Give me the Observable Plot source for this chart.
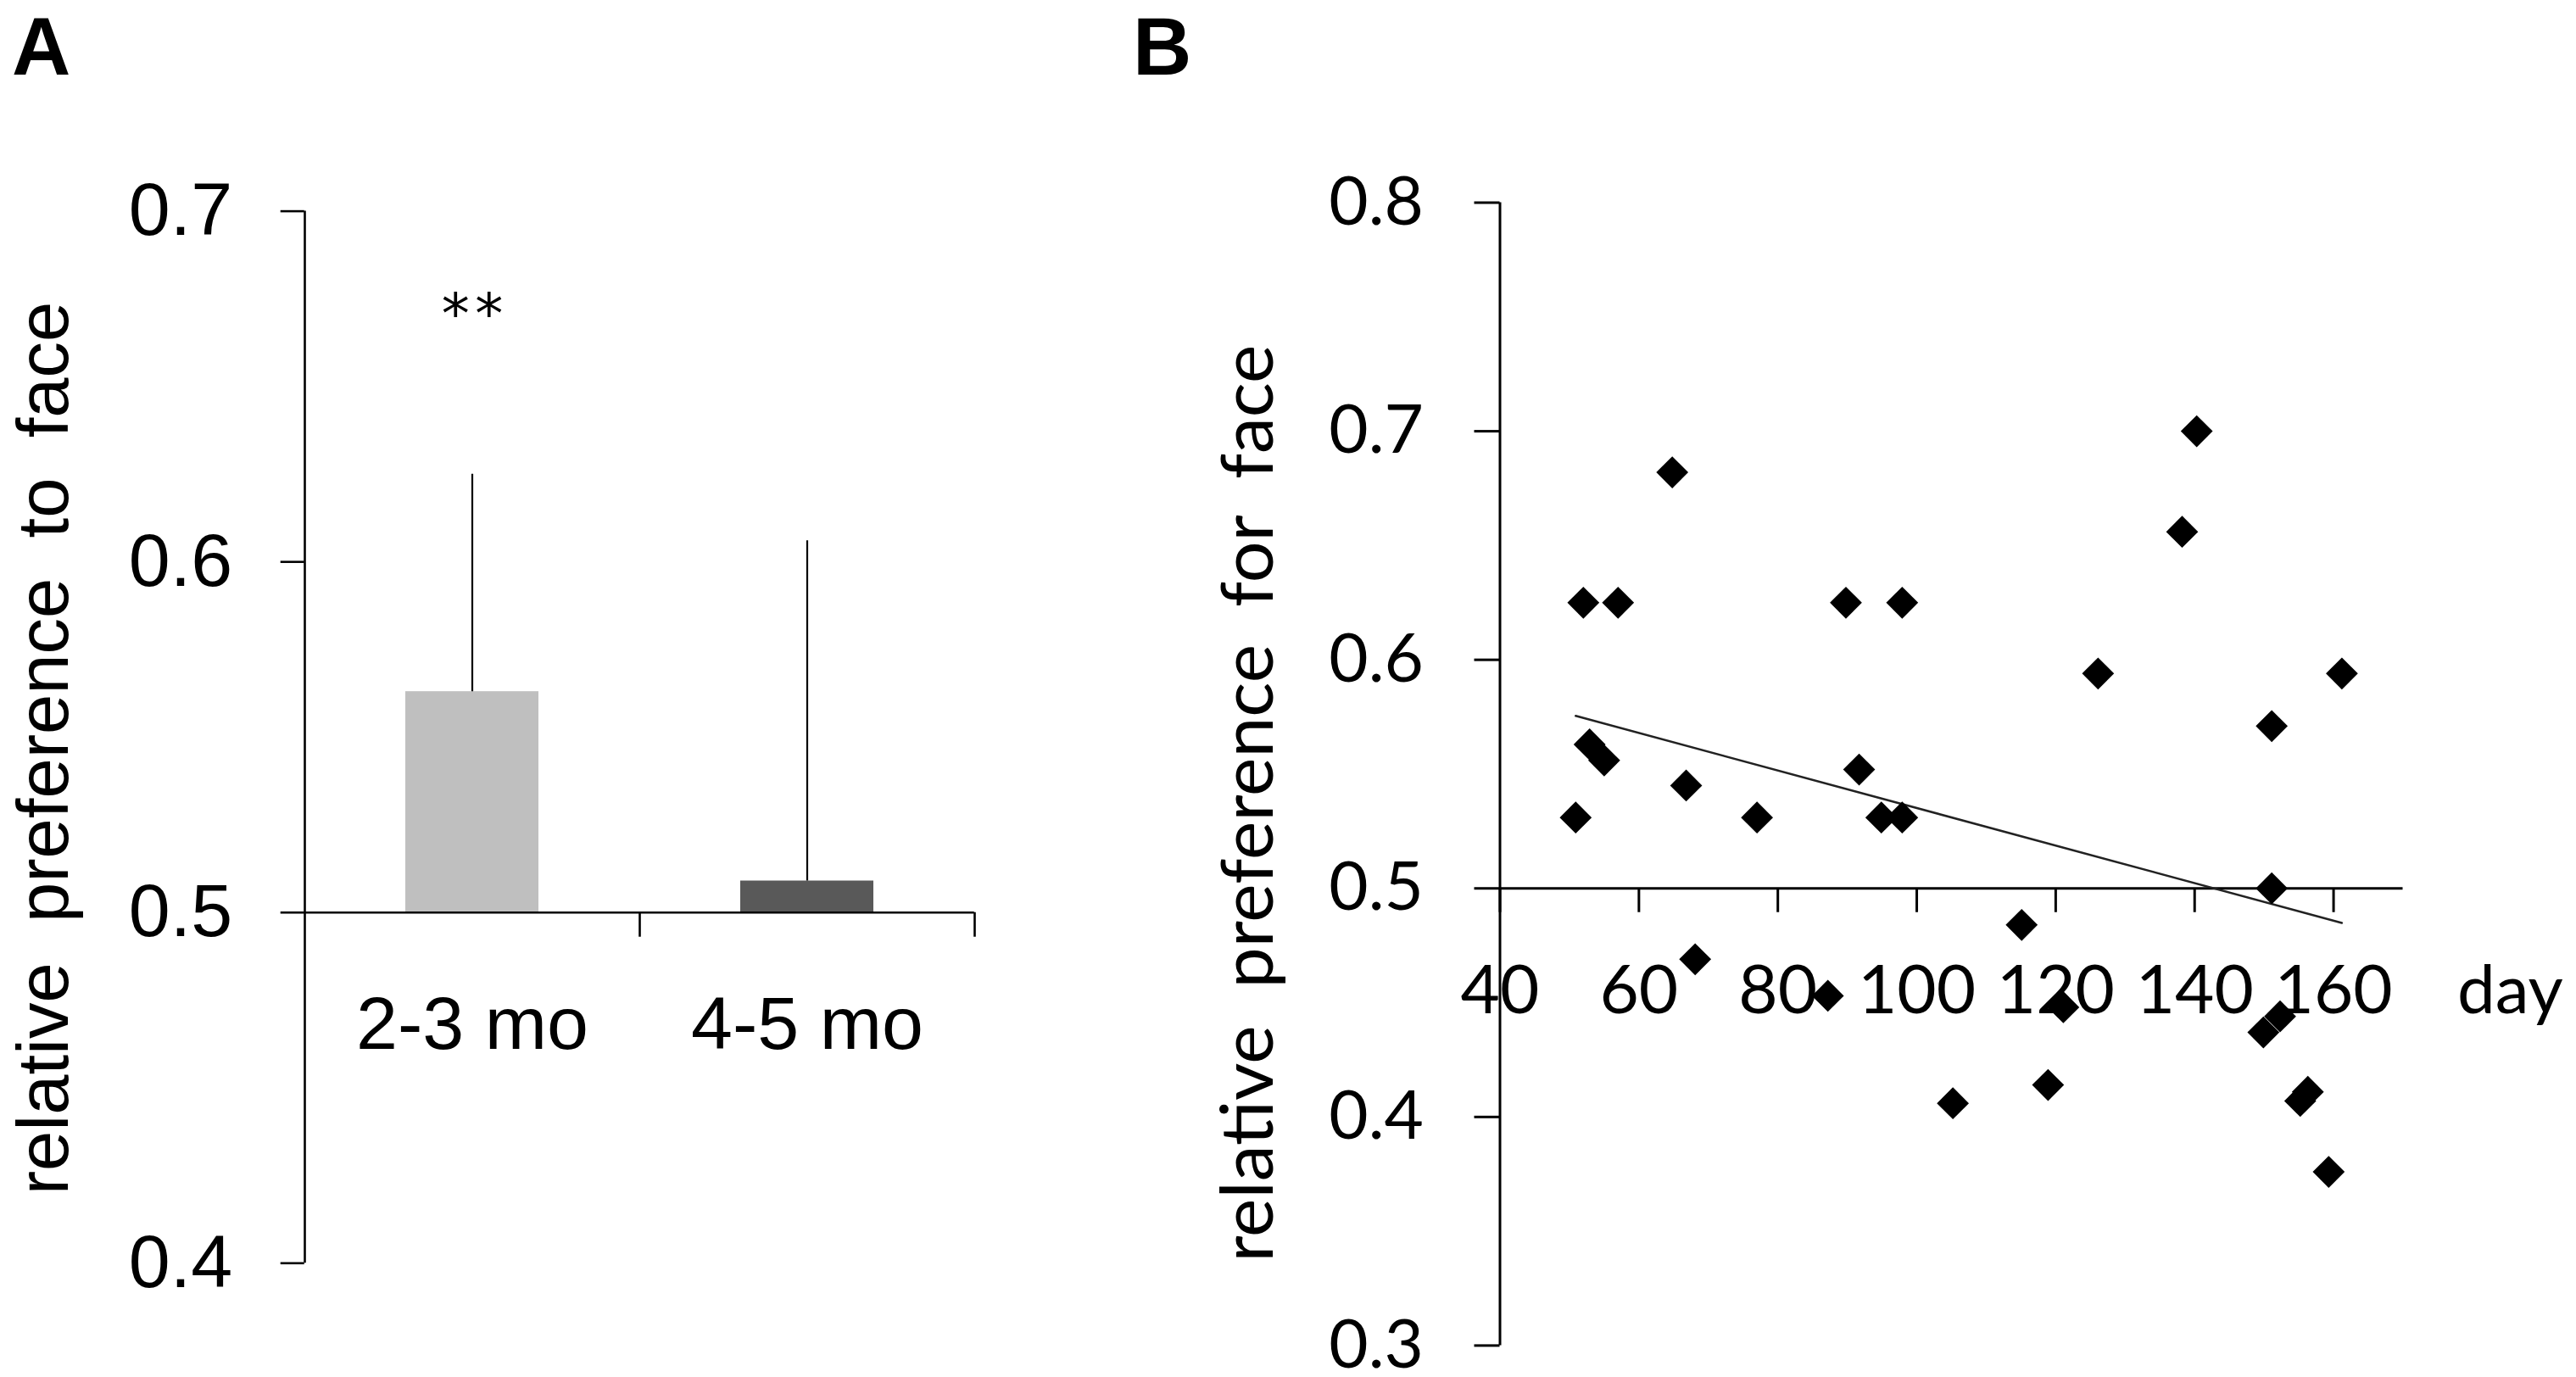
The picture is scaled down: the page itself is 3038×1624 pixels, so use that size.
<!DOCTYPE html>
<html>
<head>
<meta charset="utf-8">
<script src="https://cdn.jsdelivr.net/npm/d3@7"></script>
<script src="https://cdn.jsdelivr.net/npm/@observablehq/plot@0.6"></script>
<style>
  html, body { margin: 0; padding: 0; background: #fff; }
  #page { position: relative; width: 3038px; height: 1624px; overflow: hidden; background: #fff; }
  .panel { position: absolute; top: 0; }
  .tag { position: absolute; font-family: "Liberation Sans", Arial, sans-serif; font-weight: bold; font-size: 96px; line-height: 1; color: #000; }
</style>
</head>
<body>
<div id="page">
  <div class="tag" style="left:14px; top:7px;">A</div>
  <div class="tag" style="left:1336px; top:7px;">B</div>
  <div class="panel" id="panelA" style="left:0px;"></div>
  <div class="panel" id="panelB" style="left:1400px;"></div>
</div>
<script>
// ---------- Panel A data ----------
const groups = ["2-3 mo", "4-5 mo"];
const groupMeans = [0.563, 0.509];
const groupErrors = [0.062, 0.097];
const groupColors = ["#bfbfbf", "#595959"];
const yTicksA = [0.4, 0.5, 0.6, 0.7];
const yDomainA = [0.4, 0.7];
const baselineA = 0.5;
const yLabelA = "relative\u00a0 preference\u00a0 to\u00a0 face";
const sigGroups = ["2-3 mo"];
const sigTexts = ["*\u200a*"];
const sigY = [0.6653];

// ---------- Panel B data ----------
const days = [50.9, 52.0, 52.9, 55.0, 57.0, 64.8, 66.8, 68.1, 77.0, 87.2,
              89.8, 91.7, 94.9, 97.9, 97.9, 105.2, 115.1, 118.9, 121.1, 126.1,
              138.2, 140.3, 149.9, 151.1, 151.1, 152.3, 155.2, 156.3, 159.3, 161.2];
const prefs = [0.531, 0.625, 0.563, 0.556, 0.625, 0.682, 0.545, 0.469, 0.531, 0.453,
               0.625, 0.552, 0.531, 0.625, 0.531, 0.406, 0.484, 0.414, 0.448, 0.594,
               0.656, 0.700, 0.437, 0.571, 0.500, 0.444, 0.407, 0.411, 0.376, 0.594];
const xTicksB = [40, 60, 80, 100, 120, 140, 160];
const yTicksB = [0.3, 0.4, 0.5, 0.6, 0.7, 0.8];
const xDomainB = [40, 170];
const yDomainB = [0.3, 0.8];
const baselineB = 0.5;
const yLabelB = "relative\u00a0 preference\u00a0 for\u00a0 face";
const xLabelB = "day";

// ---------- Panel A ----------
const fontA = '"Liberation Sans", Arial, Helvetica, sans-serif';
const WA = 1250, HA = 1624;
const mA = {left: 358.7, right: WA - 1148.7, top: 248.6, bottom: HA - 1489.3};
const plotHA = HA - mA.top - mA.bottom;
const bandA = (WA - mA.left - mA.right) / groups.length;
const pxToA = px => px * (yDomainA[1] - yDomainA[0]) / plotHA;
const barsA = groups.map((g, i) => ({group: g, mean: groupMeans[i], err: groupErrors[i], color: groupColors[i]}));
const sigA = sigGroups.map((g, i) => ({group: g, text: sigTexts[i], y: sigY[i]}));

const plotA = Plot.plot({
  width: WA, height: HA,
  marginLeft: mA.left, marginRight: mA.right, marginTop: mA.top, marginBottom: mA.bottom,
  style: {fontFamily: fontA, background: "transparent", overflow: "visible", color: "#000"},
  x: {type: "band", domain: groups, padding: 0, axis: null},
  y: {domain: yDomainA, axis: null},
  color: {type: "identity"},
  marks: [
    Plot.barY(barsA, {x: "group", y1: () => baselineA, y2: "mean", fill: "color", insetLeft: 119, insetRight: 119}),
    Plot.ruleX(barsA, {x: "group", y1: "mean", y2: d => d.mean + d.err, stroke: "#000", strokeWidth: 2.2}),
    Plot.ruleX([groups[0]], {x: d => d, dx: -bandA / 2, stroke: "#000", strokeWidth: 2.6}),
    Plot.ruleY([baselineA], {stroke: "#000", strokeWidth: 2.6}),
    Plot.ruleX(groups, {x: d => d, y1: () => baselineA, y2: () => baselineA - pxToA(29), dx: bandA / 2, stroke: "#000", strokeWidth: 2.6}),
    Plot.axisY({ticks: yTicksA, tickSize: 28, tickPadding: 57, fontSize: 88, tickFormat: d3.format(".1f"), strokeWidth: 2.6, label: null}),
    Plot.text(groups, {x: d => d, y: () => baselineA, text: d => d, dy: 98, lineAnchor: "top", fontSize: 88}),
    Plot.text(sigA, {x: "group", y: "y", text: "text", lineAnchor: "bottom", fontSize: 66, fontFamily: '"DejaVu Sans", sans-serif'}),
    Plot.text([yLabelA], {frameAnchor: "left", text: d => d, rotate: -90, textAnchor: "middle", lineAnchor: "middle", dx: 52 - mA.left, dy: 882 - (mA.top + plotHA / 2), fontSize: 85})
  ]
});
document.getElementById("panelA").appendChild(plotA);

// ---------- Panel B ----------
const fontB = 'Lato, "Open Sans", "Noto Sans", sans-serif';
const WB = 1638, HB = 1624;
const mB = {left: 368.5, right: WB - 1433.5, top: 238.5, bottom: HB - 1586.4};
const plotHB = HB - mB.top - mB.bottom;
const pxToB = px => px * (yDomainB[1] - yDomainB[0]) / plotHB;
const pts = days.map((d, i) => ({day: d, pref: prefs[i]}));

const plotB = Plot.plot({
  width: WB, height: HB,
  marginLeft: mB.left, marginRight: mB.right, marginTop: mB.top, marginBottom: mB.bottom,
  style: {fontFamily: fontB, background: "transparent", overflow: "visible", color: "#000"},
  x: {domain: xDomainB, axis: null},
  y: {domain: yDomainB, axis: null},
  marks: [
    Plot.ruleX([xDomainB[0]], {stroke: "#000", strokeWidth: 3}),
    Plot.ruleY([baselineB], {stroke: "#000", strokeWidth: 3}),
    Plot.ruleX(xTicksB, {x: d => d, y1: () => baselineB, y2: () => baselineB - pxToB(28.5), stroke: "#000", strokeWidth: 3}),
    Plot.axisY({ticks: yTicksB, tickSize: 30, tickPadding: 60, fontSize: 80, tickFormat: d3.format(".1f"), strokeWidth: 3, label: null}),
    Plot.text(xTicksB, {x: d => d, y: () => baselineB, text: d => String(d), dy: 90, lineAnchor: "top", fontSize: 80}),
    Plot.text([xLabelB], {x: () => xDomainB[1], y: () => baselineB, text: d => d, dx: 64, dy: 90, textAnchor: "start", lineAnchor: "top", fontSize: 80}),
    Plot.text([yLabelB], {frameAnchor: "left", text: d => d, rotate: -90, textAnchor: "middle", lineAnchor: "middle", dx: 1473 - 1400 - mB.left, dy: 947 - (mB.top + plotHB / 2), fontSize: 86}),
    Plot.linearRegressionY(pts, {x: "day", y: "pref", ci: 0, stroke: "#222", strokeWidth: 2.5}),
    Plot.dot(pts, {x: "day", y: "pref", symbol: "diamond2", r: 17, fill: "#000", stroke: "none"})
  ]
});
document.getElementById("panelB").appendChild(plotB);
</script>
</body>
</html>
